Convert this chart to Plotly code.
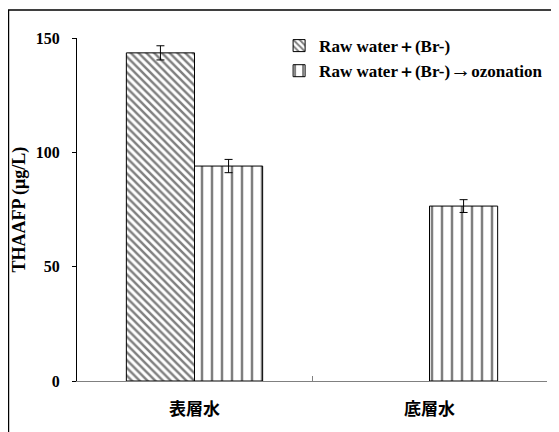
import plotly.graph_objects as go

categories = ["表層水", "底層水"]
raw_water = [143.5, None]
raw_water_err = [3.1, 0]
ozonation = [94.0, 76.5]
ozonation_err = [2.9, 2.8]

SERIF = "Liberation Serif"
CJK = "Noto Sans CJK JP"
ARROW = '<span style="font-size:21px">→</span>'

fig = go.Figure()
fig.add_trace(go.Bar(
    x=categories,
    y=raw_water,
    name="Raw water＋(Br-)",
    marker=dict(
        color="white",
        line=dict(color="black", width=1),
        pattern=dict(shape="\\", fgcolor="black", bgcolor="white", size=5.5, solidity=0.45),
    ),
    error_y=dict(type="data", array=raw_water_err, color="black", thickness=1, width=4),
))
fig.add_trace(go.Bar(
    x=categories,
    y=ozonation,
    name="Raw water＋(Br-)" + ARROW + "ozonation",
    marker=dict(
        color="white",
        line=dict(color="black", width=1),
        pattern=dict(shape="|", fgcolor="black", bgcolor="white", size=10, solidity=0.25),
    ),
    error_y=dict(type="data", array=ozonation_err, color="black", thickness=1, width=4),
))

# the page body has an 8px margin, so the figure is 8px smaller than the window
fig.update_layout(
    width=551,
    height=424,
    barmode="group",
    bargap=0.42,
    bargroupgap=0,
    paper_bgcolor="white",
    plot_bgcolor="white",
    margin=dict(l=69, r=12, t=30, b=51, autoexpand=False),
    font=dict(family=SERIF, color="black", size=16),
    showlegend=True,
    legend=dict(
        x=0.43, y=1.029, xanchor="left", yanchor="top",
        bgcolor="rgba(0,0,0,0)",
        font=dict(family=SERIF, size=17, color="black", weight="bold"),
        tracegroupgap=0,
        itemwidth=30,
    ),
    xaxis=dict(
        showline=True, linecolor="#808080", linewidth=1,
        ticks="inside", ticklen=5, tickcolor="#808080", tickson="boundaries",
        tickfont=dict(family=CJK, size=17, color="black", weight="bold"),
        ticklabelstandoff=13,
        showgrid=False, zeroline=False,
    ),
    yaxis=dict(
        range=[0, 150],
        tickvals=[0, 50, 100, 150],
        showline=True, linecolor="black", linewidth=1,
        ticks="outside", ticklen=4, tickcolor="black",
        tickfont=dict(family=SERIF, size=16, color="black", weight="bold"),
        ticklabelstandoff=9,
        showgrid=False, zeroline=False,
    ),
    annotations=[dict(
        text="THAAFP (μg/L)",
        xref="paper", yref="paper",
        x=-0.1214, y=0.5, xanchor="center", yanchor="middle",
        textangle=-90, showarrow=False,
        font=dict(family=SERIF, size=18, color="black", weight="bold"),
    )],
    shapes=[dict(
        type="rect", xref="paper", yref="paper",
        x0=-0.1458, x1=1.04, y0=-0.16, y1=1.0817,
        line=dict(color="black", width=1.5),
        fillcolor="rgba(0,0,0,0)",
        layer="below",
    )],
)

fig.write_html("out.html")
